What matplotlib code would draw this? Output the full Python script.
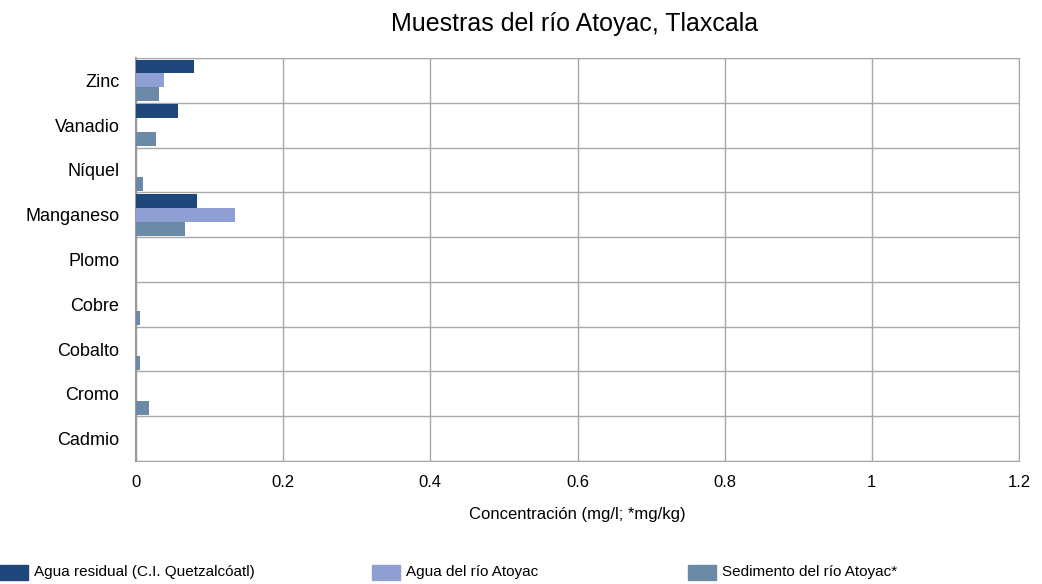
import matplotlib
matplotlib.use('Agg')
import matplotlib.pyplot as plt
import numpy as np

plt.rcParams['font.family'] = ['Liberation Sans', 'DejaVu Sans']

metales = ['Zinc', 'Vanadio', 'Níquel', 'Manganeso', 'Plomo', 'Cobre', 'Cobalto', 'Cromo', 'Cadmio']
residual = [0.079, 0.057, 0.0, 0.083, 0.0, 0.0, 0.0, 0.0, 0.0]
rio = [0.038, 0.0, 0.0, 0.134, 0.0, 0.0, 0.0, 0.0, 0.0]
sedimento = [0.031, 0.027, 0.009, 0.066, 0.0, 0.006, 0.006, 0.017, 0.0]

series = [
    ('Agua residual (C.I. Quetzalcóatl)', residual, '#1f477c'),
    ('Agua del río Atoyac', rio, '#8f9fd3'),
    ('Sedimento del río Atoyac*', sedimento, '#6a8aa7'),
]

fig = plt.figure(figsize=(10.42, 5.84), dpi=100)
ax = fig.add_axes([136/1042, 1 - 461/584, (1019-136)/1042, (461-58)/584])

n = len(metales)
y = np.arange(n)
h = 0.31
for i, (nombre, vals, color) in enumerate(series):
    ax.barh(y - h + i*h, vals, height=h, color=color, label=nombre, zorder=3)

ax.set_xlim(0, 1.2)
ax.set_ylim(n - 0.5, -0.5)
ax.set_xticks(np.arange(0, 1.21, 0.2))
ax.set_xticklabels(['0', '0.2', '0.4', '0.6', '0.8', '1', '1.2'], fontsize=12)
ax.set_yticks(y)
ax.set_yticklabels(metales, fontsize=13)
ax.set_yticks(np.arange(n + 1) - 0.5, minor=True)
ax.tick_params(axis='y', which='both', length=0, pad=12)
ax.tick_params(axis='x', length=0, pad=10)
ax.grid(axis='x', color='#a8a8a8', linewidth=1, zorder=0)
ax.grid(axis='y', which='minor', color='#a8a8a8', linewidth=1, zorder=0)
for s in ax.spines.values():
    s.set_color('#a8a8a8')
ax.spines['left'].set_color('#9a9a9a')
ax.spines['left'].set_linewidth(1.5)

ax.set_xlabel('Concentración (mg/l; *mg/kg)', fontsize=12, labelpad=12)
fig.text(575/1042, 1 - 24/584, 'Muestras del río Atoyac, Tlaxcala', ha='center', va='center',
         fontsize=18)

# leyenda manual en la parte inferior
xs = [0, 372, 688]
for (nombre, vals, c), x0 in zip(series, xs):
    fig.patches.append(plt.Rectangle((x0/1042, 1 - 580/584), 28/1042, 15/584,
                                     transform=fig.transFigure, color=c))
    fig.text((x0 + 34)/1042, 1 - 572/584, nombre, va='center', ha='left', fontsize=11)

fig.savefig('out.png', dpi=100)
